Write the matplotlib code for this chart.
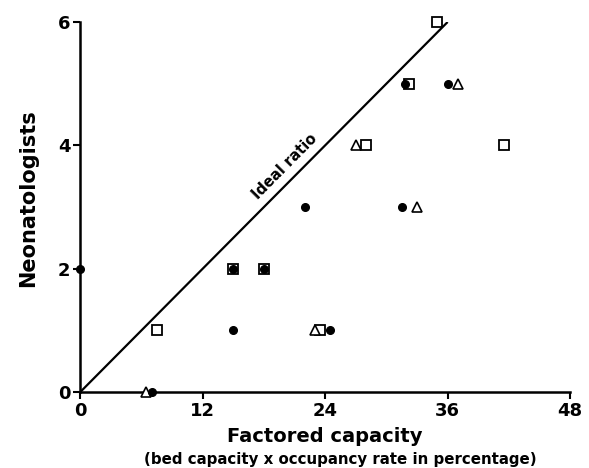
import matplotlib
matplotlib.use("Agg")
import matplotlib.pyplot as plt

# Data
circle_x = [0, 7, 15, 15, 18, 22, 24.5, 31.5, 31.8, 36]
circle_y = [2, 0, 1, 2, 2, 3, 1, 3, 5, 5]
triangle_x = [6.5, 23, 27, 33, 37]
triangle_y = [0, 1, 4, 3, 5]
square_x = [7.5, 15, 18, 23.5, 28, 32.2, 35, 41.5]
square_y = [1, 2, 2, 1, 4, 5, 6, 4]
ideal_x = [0, 36]
ideal_y = [0, 6]
xticks = [0, 12, 24, 36, 48]
yticks = [0, 2, 4, 6]

plt.rcParams['font.family'] = ['DejaVu Sans']
fig = plt.figure(figsize=(5.89, 4.68), dpi=100)
ax = fig.add_axes([0.136, 0.162, 0.832, 0.791])

ax.plot(ideal_x, ideal_y, color='black', lw=1.6, solid_capstyle='butt')
ax.plot(square_x, square_y, ls='none', marker='s', ms=6.5, mfc='white', mec='black', mew=1.3, clip_on=False, zorder=3)
ax.plot(triangle_x, triangle_y, ls='none', marker='^', ms=7, mfc='white', mec='black', mew=1.2, clip_on=False, zorder=3)
ax.plot(circle_x, circle_y, ls='none', marker='o', ms=5.5, mfc='black', mec='black', clip_on=False, zorder=4)

ax.annotate('Ideal ratio', xy=(21.0, 3.5), xytext=(-3.5, 3.5), textcoords='offset points',
            rotation=45.3, rotation_mode='anchor', ha='center', va='bottom',
            fontsize=10.5, fontweight='bold')

ax.set_xlim(0, 48)
ax.set_ylim(0, 6)
ax.set_xticks(xticks)
ax.set_yticks(yticks)
ax.set_xticklabels([str(t) for t in xticks], fontsize=13, fontweight='bold')
ax.set_yticklabels([str(t) for t in yticks], fontsize=13, fontweight='bold')
ax.tick_params(direction='out', length=5, width=1.5, pad=2)
for s in ['top', 'right']:
    ax.spines[s].set_visible(False)
for s in ['left', 'bottom']:
    ax.spines[s].set_linewidth(1.8)

ax.set_xlabel('Factored capacity', fontsize=14, fontweight='bold')
ax.xaxis.set_label_coords(0.5, -0.095)
ax.set_ylabel('Neonatologists', fontsize=15, fontweight='bold')
ax.yaxis.set_label_coords(-0.085, 0.525)
fig.text(0.578, 0.019, '(bed capacity x occupancy rate in percentage)', ha='center', va='center',
         fontsize=10.8, fontweight='bold')

fig.savefig('out.png', dpi=100)
